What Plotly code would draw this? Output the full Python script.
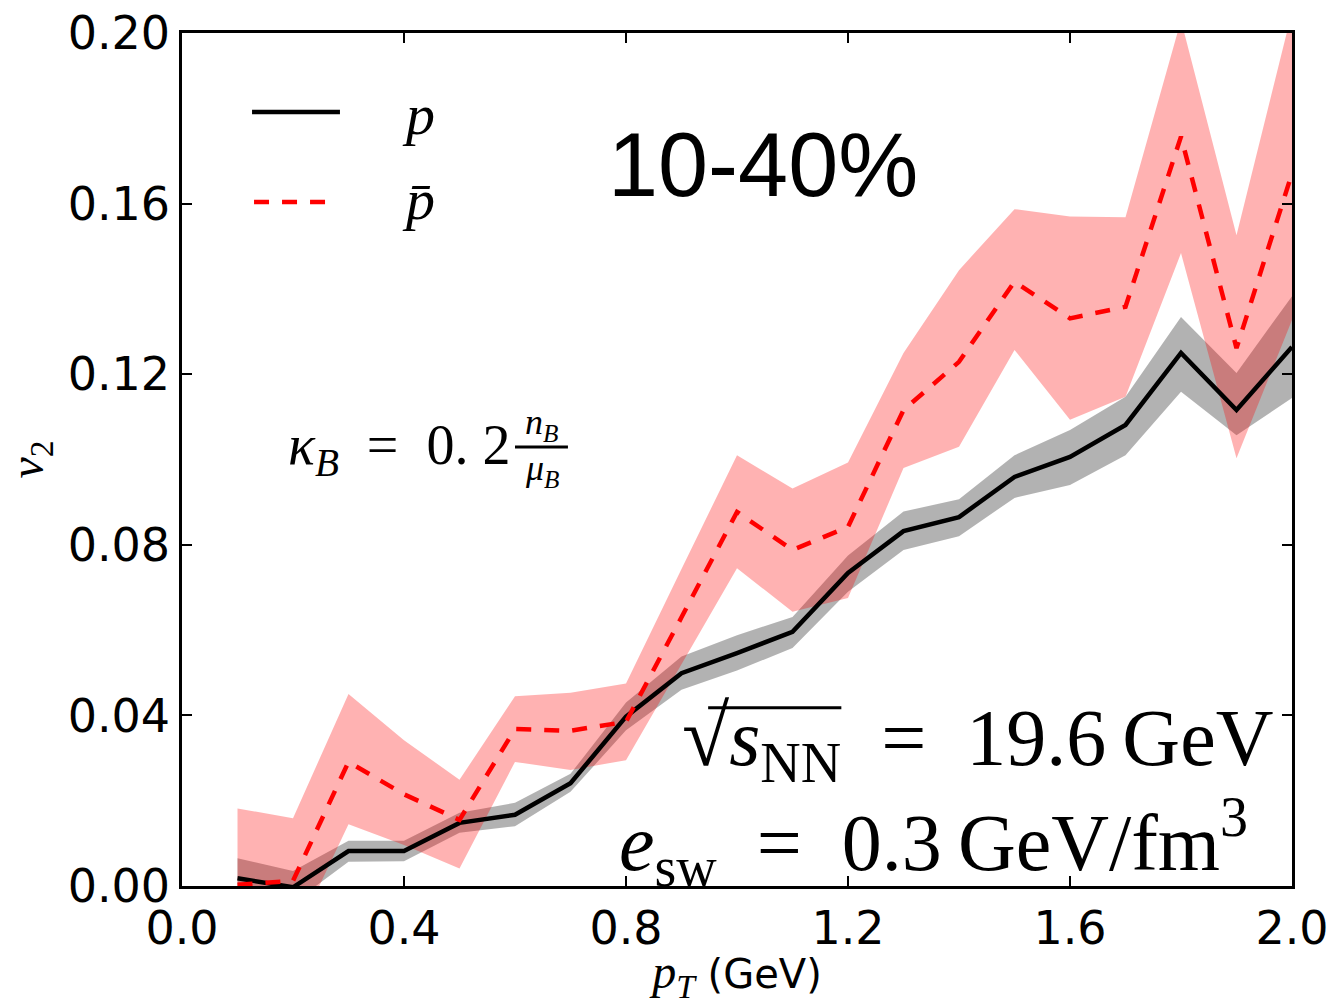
import plotly.graph_objects as go

pt = [0.1, 0.2, 0.3, 0.4, 0.5, 0.6, 0.7, 0.8, 0.9, 1.0, 1.1, 1.2, 1.3, 1.4, 1.5, 1.6, 1.7, 1.8, 1.9, 2.0]

p_v2 = [0.0018, -0.0003, 0.0082, 0.0082, 0.0148, 0.0167, 0.0241, 0.0397, 0.0499, 0.0546,
        0.0596, 0.0734, 0.0832, 0.0865, 0.0959, 0.1006, 0.1081, 0.1250, 0.1116, 0.1264]
p_lo = [-0.002, -0.004, 0.0057, 0.0058, 0.0125, 0.0140, 0.0221, 0.0365, 0.0460, 0.0505,
        0.0558, 0.0690, 0.0788, 0.0820, 0.0910, 0.0940, 0.1010, 0.1159, 0.1057, 0.1144]
p_hi = [0.0065, 0.0035, 0.0106, 0.0106, 0.0172, 0.0195, 0.0263, 0.0430, 0.0538, 0.0588,
        0.0631, 0.0775, 0.0878, 0.0907, 0.1010, 0.1069, 0.1147, 0.1334, 0.1203, 0.1383]

pbar_v2 = [0.0003, 0.0012, 0.0291, 0.0215, 0.0155, 0.0368, 0.0364, 0.0385, 0.0630, 0.0877,
           0.0788, 0.0842, 0.1116, 0.1229, 0.1417, 0.1331, 0.1358, 0.1757, 0.1261, 0.1671]
pbar_lo = [-0.015, -0.013, 0.0145, 0.0096, 0.0041, 0.0291, 0.0272, 0.0295, 0.0520, 0.0745,
           0.0643, 0.0675, 0.0980, 0.1030, 0.1257, 0.1093, 0.1147, 0.1484, 0.1003, 0.1327]
pbar_hi = [0.0182, 0.0159, 0.0450, 0.0342, 0.0249, 0.0445, 0.0453, 0.0475, 0.0743, 0.1010,
           0.0932, 0.0993, 0.1250, 0.1444, 0.1587, 0.1570, 0.1568, 0.2030, 0.1526, 0.2050]

x_ticks = [0.0, 0.4, 0.8, 1.2, 1.6, 2.0]
y_ticks = [0.00, 0.04, 0.08, 0.12, 0.16, 0.20]

legend_labels = ["<i>p</i>", "<i>p̄</i>"]

SERIF = "Liberation Serif"
SANS = "DejaVu Sans"
DASH = "15px,13px"
SP = "\u2002"  # en space for math-like spacing

fig = go.Figure()

# uncertainty bands
fig.add_trace(go.Scatter(x=pt, y=p_lo, mode="lines", line=dict(width=0), showlegend=False, hoverinfo="skip"))
fig.add_trace(go.Scatter(x=pt, y=p_hi, mode="lines", line=dict(width=0), fill="tonexty",
                         fillcolor="rgba(0,0,0,0.3)", showlegend=False, hoverinfo="skip"))
fig.add_trace(go.Scatter(x=pt, y=pbar_lo, mode="lines", line=dict(width=0), showlegend=False, hoverinfo="skip"))
fig.add_trace(go.Scatter(x=pt, y=pbar_hi, mode="lines", line=dict(width=0), fill="tonexty",
                         fillcolor="rgba(255,0,0,0.3)", showlegend=False, hoverinfo="skip"))

# central lines
fig.add_trace(go.Scatter(x=pt, y=p_v2, mode="lines", name="p",
                         line=dict(color="black", width=4.5), showlegend=False))
fig.add_trace(go.Scatter(x=pt, y=pbar_v2, mode="lines", name="p̄",
                         line=dict(color="red", width=4.5, dash=DASH), showlegend=False))

fig.update_layout(
    width=1332, height=1005,
    margin=dict(l=182, r=40, t=33, b=119),
    paper_bgcolor="white", plot_bgcolor="white",
    showlegend=False,
    xaxis=dict(range=[0, 2.0], tickvals=x_ticks, tickformat=".1f", automargin=False,
               ticks="inside", ticklen=10, tickwidth=1.5, tickcolor="black",
               showline=True, linecolor="black", linewidth=2.5, mirror="ticks",
               showgrid=False, zeroline=False,
               tickfont=dict(family=SANS, size=46, color="black"),
               title=dict(text="<span style='font-family:Liberation Serif;font-size:48px'><i>p</i><sub><i>T</i></sub></span> (GeV)",
                          font=dict(family=SANS, size=40, color="black"), standoff=10)),
    yaxis=dict(range=[0, 0.20], tickvals=y_ticks, tickformat=".2f", automargin=False,
               ticks="inside", ticklen=10, tickwidth=1.5, tickcolor="black",
               showline=True, linecolor="black", linewidth=2.5, mirror="ticks",
               showgrid=False, zeroline=False,
               tickfont=dict(family=SANS, size=46, color="black"),
               title=dict(text="<i>v</i><sub>2</sub>",
                          font=dict(family=SERIF, size=48, color="black"), standoff=22)),
)

# manual legend (paper coordinates)
fig.add_shape(type="line", xref="paper", yref="paper", x0=0.0631, x1=0.1423, y0=0.9074, y1=0.9074,
              line=dict(color="black", width=4.5))
fig.add_shape(type="line", xref="paper", yref="paper", x0=0.0649, x1=0.1306, y0=0.8019, y1=0.8019,
              line=dict(color="red", width=4.5, dash=DASH))
fig.add_annotation(xref="paper", yref="paper", x=0.213, y=0.905, xanchor="center", yanchor="middle",
                   text=legend_labels[0], showarrow=False, font=dict(family=SERIF, size=58, color="black"))
fig.add_annotation(xref="paper", yref="paper", x=0.213, y=0.805, xanchor="center", yanchor="middle",
                   text=legend_labels[1], showarrow=False, font=dict(family=SERIF, size=58, color="black"))

# centrality label
fig.add_annotation(xref="paper", yref="paper", x=0.523, y=0.845, xanchor="center", yanchor="middle",
                   text="10-40%", showarrow=False,
                   font=dict(family="Liberation Sans", size=90, color="black"))

# kappa_B annotation with stacked fraction exponent
fig.add_annotation(xref="paper", yref="paper", x=0.2973, y=0.512, xanchor="right", yanchor="middle",
                   text="<i>κ</i><sub><i>B</i></sub>" + SP + "=" + SP + "0. 2",
                   showarrow=False, font=dict(family=SERIF, size=56, color="black"))
fig.add_annotation(xref="paper", yref="paper", x=0.324, y=0.541, xanchor="center", yanchor="middle",
                   text="<i>n</i><sub><i>B</i></sub>",
                   showarrow=False, font=dict(family=SERIF, size=36, color="black"))
fig.add_annotation(xref="paper", yref="paper", x=0.324, y=0.487, xanchor="center", yanchor="middle",
                   text="<i>μ</i><sub><i>B</i></sub>",
                   showarrow=False, font=dict(family=SERIF, size=36, color="black"))
fig.add_shape(type="line", xref="paper", yref="paper", x0=0.3000, x1=0.3477, y0=0.5147, y1=0.5147,
              line=dict(color="black", width=3))

# collision energy / switching energy density
fig.add_annotation(xref="paper", yref="paper", x=0.985, y=0.170, xanchor="right", yanchor="middle",
                   text="<span style='font-size:86px'>√</span><i>s</i><sub>NN</sub>" + SP + "=" + SP + "19.6\u2009GeV",
                   showarrow=False, font=dict(family=SERIF, size=80, color="black"))
fig.add_shape(type="line", xref="paper", yref="paper", x0=0.474, x1=0.594, y0=0.209, y1=0.209,
              line=dict(color="black", width=3))
fig.add_annotation(xref="paper", yref="paper", x=0.962, y=0.052, xanchor="right", yanchor="middle",
                   text="<i>e</i><sub>sw</sub>" + SP + "=" + SP + "0.3\u2009GeV/fm<sup>3</sup>",
                   showarrow=False, font=dict(family=SERIF, size=80, color="black"))

fig.write_html("out.html")
